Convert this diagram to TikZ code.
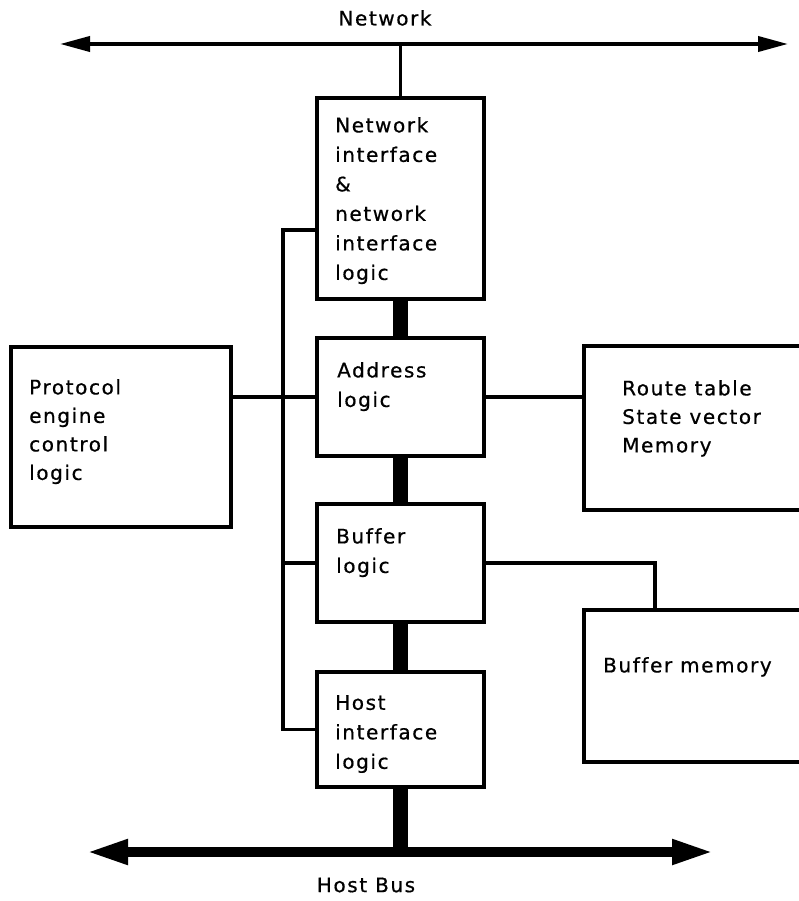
\documentclass[tikz,border=0pt]{standalone}
\usepackage{fontspec}
\setmainfont{DejaVu Sans}[LetterSpace=8,Ligatures=NoCommon,FakeBold=0.7]
\usetikzlibrary{positioning,arrows.meta}
\tikzset{
  blk/.style={
    draw=black,
    line width=3.2pt,
    minimum width=167pt,
    inner sep=0pt,
    outer sep=0pt,
    anchor=north west
  },
  txt/.style={font=\fontsize{20}{29.5}\selectfont, inner sep=0pt, anchor=north west, align=left},
  txtb/.style={txt, font=\fontsize{20}{28.5}\selectfont},
  wire/.style={line width=3.2pt},
  bar/.style={line width=15pt},
  netbus/.style={line width=3.8pt, {Triangle[length=30pt,width=15pt]}-{Triangle[length=30pt,width=15pt]}},
  hostbus/.style={line width=10pt, {Triangle[length=42pt,width=23pt]}-{Triangle[length=42pt,width=23pt]}},
}

\begin{document}
\begin{tikzpicture}[x=1pt,y=-1pt]
  \clip (0,0) rectangle (799,901);
  % boxes
  \node[blk, minimum height=201pt] (ni) at (317,98) {};
  \node[blk, minimum height=118pt] (addr) at (317,338) {};
  \node[blk, minimum height=118pt] (buf) at (317,504) {};
  \node[blk, minimum height=115pt] (host) at (317,672) {};
  \node[blk, minimum width=220pt, minimum height=180pt] (proto) at (11,347) {};
  \node[blk, minimum width=230pt, minimum height=164pt] (route) at (584,346) {};
  \node[blk, minimum width=230pt, minimum height=152pt] (bufmem) at (584,610) {};
  % texts
  \node[txt, below right=19pt and 18pt of ni.north west] (niT) {Network\\interface\\\&\\network\\interface\\logic};
  \node[txt, below right=24pt and 20pt of addr.north west] (addrT) {Address\\logic};
  \node[txt, below right=24pt and 19pt of buf.north west] (bufT) {Buffer\\logic};
  \node[txt, below right=23pt and 18pt of host.north west] (hostT) {Host\\interface\\logic};
  \node[txtb, below right=32pt and 18pt of proto.north west] (protoT) {Protocol\\engine\\control\\logic};
  \node[txtb, below right=34pt and 38pt of route.north west] (routeT) {Route table\\State vector\\Memory};
  \node[txt, below right=47pt and 19pt of bufmem.north west] (bufmemT) {Buffer memory};
  % buses
  \coordinate (netL) at (60,44);
  \coordinate (netR) at (788,44);
  \coordinate (hbL) at (86,852);
  \coordinate (hbR) at (714,852);
  \draw[netbus] (netL) -- (netR);
  \draw[hostbus] (hbL) -- (hbR);
  \node[txt, anchor=center] (netLbl) at (385,18) {Network};
  \node[txt, anchor=center] (hbLbl) at (366,885) {Host Bus};
  % data path
  \draw[wire] (ni.north) -- (ni.north |- netL);
  \draw[bar] (ni.south) -- (addr.north);
  \draw[bar] (addr.south) -- (buf.north);
  \draw[bar] (buf.south) -- (host.north);
  \draw[bar] (host.south) -- (host.south |- hbL);
  % control lines
  \coordinate (busT) at (283,230);
  \coordinate (busB) at (283,729.5);
  \draw[wire, line join=miter] (busT -| ni.west) -- (busT) -- (busB) -- (host.west);
  \draw[wire] (busB |- buf.west) -- (buf.west);
  \draw[wire] (proto.east |- addr.west) -- (addr.west);
  \draw[wire] (addr.east) -- (addr.east -| route.west);
  \draw[wire] (buf.east) -| ([xshift=71pt]bufmem.north west);
\end{tikzpicture}
\end{document}
